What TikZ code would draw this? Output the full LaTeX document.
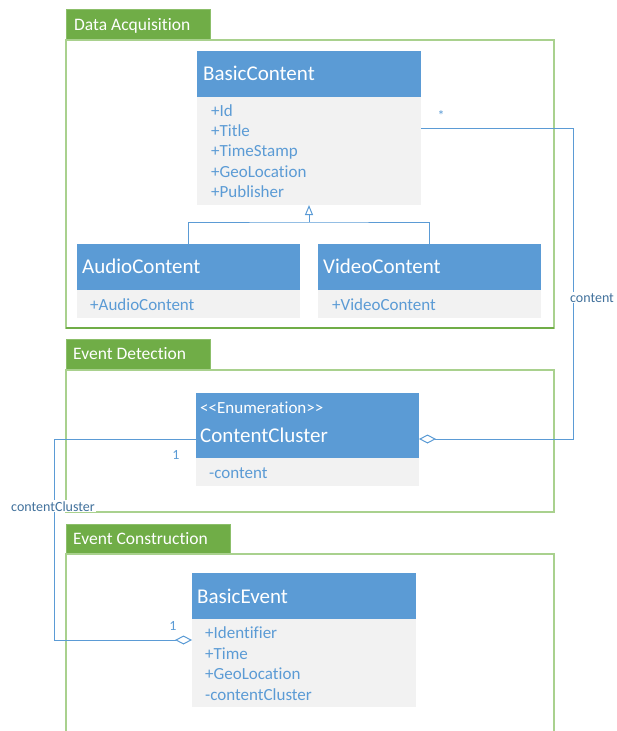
\documentclass[tikz,border=0pt]{standalone}
\usepackage{fontspec}
\setmainfont[Ligatures=NoCommon]{Carlito}
\usetikzlibrary{arrows.meta}
\definecolor{hblue}{HTML}{5B9BD5}
\definecolor{bgray}{HTML}{F2F2F2}
\definecolor{tgreen}{HTML}{70AD47}
\definecolor{fgreen}{HTML}{A9D18E}
\definecolor{lblue}{HTML}{41719C}
\begin{document}
\begin{tikzpicture}[x=1pt,y=-1pt,
  frame/.style={draw=fgreen, line width=1.3pt},
  tab/.style={fill=tgreen, draw=fgreen!50!tgreen, line width=0.8pt, anchor=north west, inner sep=0pt, outer sep=0pt},
  hdr/.style={fill=hblue, anchor=north west, inner sep=0pt, outer sep=0pt},
  bdy/.style={fill=bgray, anchor=north west, inner sep=0pt, outer sep=0pt},
  ttl/.style={anchor=base west, text=white, font=\fontsize{21}{24}\selectfont, inner sep=0pt},
  stereo/.style={anchor=base west, text=white, font=\fontsize{17}{20}\selectfont, inner sep=0pt},
  attr/.style={anchor=base west, text=hblue, font=\fontsize{17}{20}\selectfont, inner sep=0pt},
  tabtxt/.style={anchor=base west, text=white, font=\fontsize{17.5}{20}\selectfont, inner sep=0pt},
  conn/.style={draw=hblue, line width=1pt},
  lbl/.style={anchor=base, text=lblue, font=\fontsize{14}{16}\selectfont, inner sep=1pt},
  mult/.style={anchor=base, text=hblue, font=\fontsize{14}{16}\selectfont, inner sep=0pt},
  agg/.style={-{Diamond[open,length=17pt,width=9pt]}}
]
\useasboundingbox (0,0) rectangle (616,731);

% ---------- frames ----------
\node[tab, minimum width=144pt, minimum height=30pt] (tab1) at (66,9) {};
\draw[frame] (66,40) rectangle (554,328);
\draw[draw=tgreen, line width=1.3pt] (66,328) -- (554,328);
\node[tabtxt] (t1) at (74,30) {Data Acquisition};

\node[tab, minimum width=144pt, minimum height=30pt] (tab2) at (66,339) {};
\draw[frame] (66,370) rectangle (554,512);
\node[tabtxt] (t2) at (73,359) {Event Detection};

\node[tab, minimum width=164pt, minimum height=30pt] (tab3) at (66,524) {};
\draw[frame] (66,731) -- (66,554) -- (554,554) -- (554,731);
\node[tabtxt] (t3) at (73,544) {Event Construction};

% ---------- classes ----------
\node[hdr, minimum width=224pt, minimum height=46pt] (bch) at (197,51) {};
\node[bdy, minimum width=224pt, minimum height=108pt] (bcb) at (197,97) {};
\node[ttl] (bct) at (203,80) {BasicContent};
\node[attr] (bc1) at (211,116) {+Id};
\node[attr] (bc2) at (211,136.3) {+Title};
\node[attr] (bc3) at (211,156.6) {+TimeStamp};
\node[attr] (bc4) at (211,177) {+GeoLocation};
\node[attr] (bc5) at (211,197.3) {+Publisher};

\node[hdr, minimum width=223pt, minimum height=46pt] (ach) at (77,244) {};
\node[bdy, minimum width=223pt, minimum height=28pt] (acb) at (77,290) {};
\node[ttl] (act) at (82,273) {AudioContent};
\node[attr] (ac1) at (90,310) {+AudioContent};

\node[hdr, minimum width=223pt, minimum height=46pt] (vch) at (318,244) {};
\node[bdy, minimum width=223pt, minimum height=28pt] (vcb) at (318,290) {};
\node[ttl] (vct) at (323,273) {VideoContent};
\node[attr] (vc1) at (332,310) {+VideoContent};

\node[hdr, minimum width=223pt, minimum height=65pt] (cch) at (196,393) {};
\node[bdy, minimum width=223pt, minimum height=28pt] (ccb) at (196,458) {};
\node[stereo] (ccs) at (200,413) {{<}{<}Enumeration{>}{>}};
\node[ttl] (cct) at (200,442) {ContentCluster};
\node[attr] (cc1) at (209,478) {-content};

\node[hdr, minimum width=224pt, minimum height=46pt] (beh) at (192,573) {};
\node[bdy, minimum width=224pt, minimum height=88pt] (beb) at (192,619) {};
\node[ttl] (bet) at (197,603) {BasicEvent};
\node[attr] (be1) at (205,638) {+Identifier};
\node[attr] (be2) at (205,659) {+Time};
\node[attr] (be3) at (205,679) {+GeoLocation};
\node[attr] (be4) at (205,700) {-contentCluster};

% ---------- connectors ----------
\coordinate (g) at (309,222);
\draw[conn] (ach.north) |- (g) -| (vch.north);
\draw[conn, -{Triangle[open,length=10pt,width=8pt]}] (g) -- (bcb.south);

\coordinate (r1) at (573,128);
\coordinate (r2) at (573,439);
\draw[conn, agg] (bcb.east |- r1) -- (r1) -- (r2) -- (cch.east |- r2);

\coordinate (l1) at (54,439);
\coordinate (l2) at (54,640);
\draw[conn, agg] (cch.west |- l1) -- (l1) -- (l2) -- (beb.west |- l2);

% ---------- labels ----------
\node[mult] (m1) at (441,120) {*};
\node[lbl, fill=white] (lc) at (592,302) {content};
\node[mult] (m2) at (176,459) {1};
\node[lbl, fill=white] (lcc) at (53,511) {contentCluster};
\node[mult] (m3) at (173,630) {1};
\end{tikzpicture}
\end{document}
